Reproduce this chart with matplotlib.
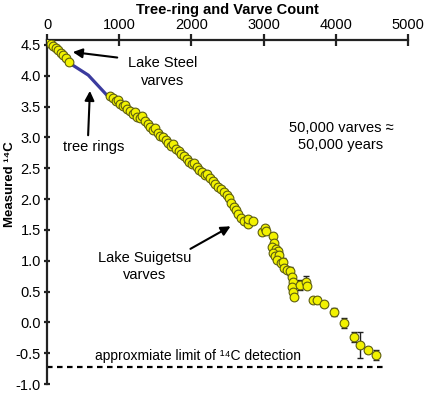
import matplotlib
matplotlib.use('Agg')
import matplotlib.pyplot as plt

# Lake Steel varves (years, measured 14C)
steel_x = [28, 55, 83, 125, 152, 194, 222, 263, 305]
steel_y = [4.56, 4.52, 4.48, 4.45, 4.42, 4.37, 4.34, 4.29, 4.22]

# tree-ring segment
ring_x = [319, 572, 873]
ring_y = [4.20, 4.01, 3.63]

# Lake Suigetsu varves
sui_x = [873, 914, 956, 983, 1011, 1053, 1080, 1108, 1150, 1191, 1219, 1247,
         1288, 1316, 1357, 1399, 1427, 1468, 1496, 1537, 1565, 1607, 1648,
         1676, 1717, 1745, 1787, 1828, 1856, 1897, 1939, 1967, 2008, 2036,
         2077, 2105, 2147, 2188, 2216, 2258, 2299, 2327, 2368, 2410, 2451,
         2493, 2521, 2548, 2590, 2618, 2645, 2687, 2728, 2784, 2784, 2853,
         2978, 3019, 3033, 3130, 3144, 3116, 3172, 3199, 3130, 3158, 3213,
         3186, 3241, 3269, 3282, 3324, 3366, 3393, 3407, 3393, 3407, 3421,
         3504, 3587, 3601, 3684, 3740, 3836, 3975, 4113, 4252, 4335, 4446,
         4557]
sui_y = [3.67, 3.64, 3.59, 3.61, 3.54, 3.51, 3.53, 3.46, 3.43, 3.38, 3.41,
         3.33, 3.32, 3.35, 3.27, 3.22, 3.17, 3.12, 3.15, 3.07, 3.02, 3.01,
         2.96, 2.91, 2.86, 2.89, 2.81, 2.78, 2.73, 2.70, 2.65, 2.60, 2.57,
         2.58, 2.52, 2.47, 2.44, 2.39, 2.41, 2.34, 2.29, 2.24, 2.20, 2.16,
         2.11, 2.07, 2.02, 1.94, 1.87, 1.82, 1.76, 1.69, 1.64, 1.59, 1.68,
         1.64, 1.47, 1.53, 1.48, 1.40, 1.29, 1.22, 1.19, 1.16, 1.12, 1.08,
         1.09, 1.01, 0.96, 0.98, 0.88, 0.85, 0.83, 0.73, 0.65, 0.57, 0.49,
         0.41, 0.60, 0.65, 0.59, 0.36, 0.36, 0.30, 0.17, -0.01, -0.24, -0.37,
         -0.45, -0.53]
sui_err = [0, 0, 0, 0, 0, 0, 0, 0, 0, 0, 0, 0,
           0, 0, 0, 0, 0, 0, 0, 0, 0, 0, 0,
           0, 0, 0, 0, 0, 0, 0, 0, 0, 0, 0,
           0, 0, 0, 0, 0, 0, 0.04, 0, 0, 0, 0,
           0, 0, 0.03, 0, 0, 0, 0, 0, 0, 0,
           0, 0.05, 0.04, 0, 0, 0.04, 0, 0.05, 0, 0, 0,
           0, 0, 0.05, 0.06, 0, 0, 0.07, 0, 0, 0, 0,
           0, 0.08, 0.10, 0, 0, 0.05, 0, 0.07, 0.08, 0.08, 0.21,
           0.05, 0.08]

# detection limit
limit_x = [0, 4654]
limit_y = [-0.73, -0.73]

plt.rcParams['font.family'] = ['Liberation Sans', 'DejaVu Sans']
plt.rcParams['font.size'] = 10.5

fig = plt.figure(figsize=(4.26, 3.94), dpi=100)
ax = fig.add_axes([47 / 426, 10 / 394, 361 / 426, 344 / 394])
ax.set_xlim(0, 5000)
ax.set_ylim(-1.0, 4.58)

ink = '#222222'
for s in ['bottom', 'right']:
    ax.spines[s].set_visible(False)
for s in ['top', 'left']:
    ax.spines[s].set_linewidth(1.6)
    ax.spines[s].set_color(ink)

ax.xaxis.tick_top()
ax.xaxis.set_label_position('top')
ax.set_xticks([0, 1000, 2000, 3000, 4000, 5000])
ax.set_yticks([-1.0, -0.5, 0.0, 0.5, 1.0, 1.5, 2.0, 2.5, 3.0, 3.5, 4.0, 4.5])
ax.set_yticklabels(['%.1f' % v for v in ax.get_yticks()])
ax.tick_params(axis='x', direction='inout', length=9, width=1.6, pad=1,
               color=ink, labelsize=10.5)
ax.tick_params(axis='y', direction='inout', length=5, width=1.6, pad=2,
               color=ink, labelsize=10.5)
ax.set_xlabel('Tree-ring and Varve Count', fontweight='bold', labelpad=3)
fig.text(10 / 426, 1 - 184 / 394, 'Measured ¹⁴C', fontweight='bold',
         rotation=90, ha='center', va='center', fontsize=9.5)

# data
ax.plot(ring_x, ring_y, color='#3b3b9e', lw=2.3, zorder=2)
mk = dict(marker='o', ms=6.3, mfc='#f2f200', mec='#5e5e10', mew=0.8,
          ls='none', zorder=3)
ax.plot(steel_x, steel_y, **mk)
ex = [x for x, e in zip(sui_x, sui_err) if e > 0]
ey = [y for y, e in zip(sui_y, sui_err) if e > 0]
ee = [e for e in sui_err if e > 0]
ax.errorbar(ex, ey, yerr=ee, fmt='none', ecolor=ink, elinewidth=1,
            capsize=2.5, capthick=1, zorder=2.5)
ax.plot(sui_x, sui_y, **mk)

ax.plot(limit_x, limit_y, color='black', lw=1.6, ls=(0, (2.5, 2)), zorder=2)

# annotations
arw = dict(arrowstyle='-|>', color='black', lw=1.5, mutation_scale=14)
ax.annotate('', xy=(319, 4.39), xytext=(1011, 4.29), arrowprops=arw)
ax.annotate('', xy=(596, 3.80), xytext=(568, 2.99), arrowprops=arw)
ax.annotate('', xy=(2576, 1.58), xytext=(1953, 1.17), arrowprops=arw)
ax.text(1607, 4.06, 'Lake Steel\nvarves', ha='center', va='center',
        fontsize=10.5, linespacing=1.3)
ax.text(644, 2.84, 'tree rings', ha='center', va='center', fontsize=10.5)
ax.text(1357, 0.91, 'Lake Suigetsu\nvarves', ha='center', va='center',
        fontsize=10.5, linespacing=1.3)
ax.text(4072, 3.02, '50,000 varves \u2248\n50,000 years', ha='center',
        va='center', fontsize=10.5, linespacing=1.3)
ax.text(2091, -0.55, 'approxmiate limit of ¹⁴C detection', ha='center',
        va='center', fontsize=10)

fig.savefig('out.png', dpi=100)
